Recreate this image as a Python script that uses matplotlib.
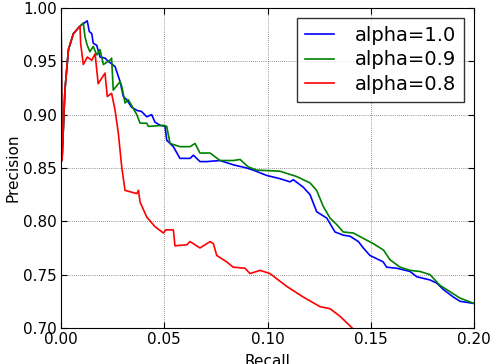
import numpy as np
import matplotlib
matplotlib.use('Agg')
import matplotlib.pyplot as plt

# shared start of all three curves (few top-ranked hits)
start_x = [0.0, 0.0005, 0.0019, 0.0036, 0.0060, 0.0092]
start_y = [1.000, 0.857, 0.923, 0.961, 0.976, 0.983]

# alpha=1.0
recall_a10 = start_x + [0.0127, 0.0137, 0.0149, 0.0156, 0.0173, 0.0189, 0.0213, 0.0229,
                        0.0262, 0.0286, 0.0302, 0.0318, 0.0342, 0.0367, 0.0390, 0.0415,
                        0.0439, 0.0455, 0.0480, 0.0504, 0.0512, 0.0544, 0.0576, 0.0625,
                        0.0641, 0.0673, 0.0706, 0.0770, 0.0834, 0.0899, 0.0931, 0.0996,
                        0.1060, 0.1109, 0.1125, 0.1173, 0.1206, 0.1238, 0.1287, 0.1327,
                        0.1367, 0.1400, 0.1440, 0.1464, 0.1496, 0.1560, 0.1577, 0.1626,
                        0.1690, 0.1723, 0.1787, 0.1820, 0.1852, 0.1900, 0.1932, 0.2000]
prec_a10 = start_y + [0.988, 0.978, 0.976, 0.967, 0.965, 0.954, 0.953, 0.950,
                      0.945, 0.931, 0.917, 0.914, 0.907, 0.904, 0.903, 0.898,
                      0.900, 0.893, 0.890, 0.889, 0.876, 0.870, 0.859, 0.859,
                      0.862, 0.856, 0.856, 0.857, 0.853, 0.850, 0.848, 0.843,
                      0.840, 0.837, 0.839, 0.832, 0.825, 0.809, 0.803, 0.790,
                      0.787, 0.786, 0.781, 0.775, 0.768, 0.762, 0.757, 0.756,
                      0.753, 0.748, 0.745, 0.742, 0.736, 0.729, 0.725, 0.723]

# alpha=0.9
recall_a09 = start_x + [0.0108, 0.0116, 0.0127, 0.0140, 0.0156, 0.0173, 0.0189, 0.0205,
                        0.0237, 0.0245, 0.0253, 0.0286, 0.0295, 0.0310, 0.0326, 0.0367,
                        0.0383, 0.0415, 0.0423, 0.0496, 0.0512, 0.0528, 0.0576, 0.0625,
                        0.0649, 0.0673, 0.0722, 0.0770, 0.0834, 0.0867, 0.0907, 0.0948,
                        0.1060, 0.1141, 0.1206, 0.1238, 0.1270, 0.1303, 0.1335, 0.1367,
                        0.1416, 0.1464, 0.1513, 0.1562, 0.1593, 0.1642, 0.1690, 0.1738,
                        0.1787, 0.1835, 0.1884, 0.1932, 0.2000]
prec_a09 = start_y + [0.986, 0.973, 0.965, 0.959, 0.964, 0.956, 0.961, 0.947,
                      0.951, 0.953, 0.923, 0.931, 0.926, 0.911, 0.914, 0.900,
                      0.892, 0.892, 0.889, 0.890, 0.889, 0.873, 0.870, 0.870,
                      0.873, 0.864, 0.864, 0.857, 0.857, 0.858, 0.851, 0.848,
                      0.847, 0.842, 0.836, 0.829, 0.814, 0.803, 0.797, 0.790,
                      0.789, 0.784, 0.779, 0.773, 0.764, 0.757, 0.754, 0.753,
                      0.750, 0.740, 0.734, 0.728, 0.723]

# alpha=0.8
recall_a08 = start_x + [0.0095, 0.0108, 0.0127, 0.0149, 0.0165, 0.0180, 0.0213, 0.0224,
                        0.0245, 0.0262, 0.0278, 0.0294, 0.0310, 0.0367, 0.0375, 0.0383,
                        0.0415, 0.0455, 0.0496, 0.0507, 0.0544, 0.0552, 0.0609, 0.0625,
                        0.0673, 0.0722, 0.0738, 0.0754, 0.0802, 0.0834, 0.0891, 0.0915,
                        0.0964, 0.1012, 0.1093, 0.1173, 0.1254, 0.1303, 0.1351, 0.1410]
prec_a08 = start_y + [0.967, 0.947, 0.954, 0.951, 0.957, 0.929, 0.939, 0.917,
                      0.920, 0.904, 0.882, 0.851, 0.829, 0.826, 0.829, 0.818,
                      0.804, 0.795, 0.789, 0.792, 0.792, 0.777, 0.778, 0.781,
                      0.775, 0.781, 0.779, 0.768, 0.762, 0.757, 0.756, 0.751,
                      0.754, 0.751, 0.739, 0.729, 0.720, 0.718, 0.711, 0.700]

labels = ['alpha=1.0', 'alpha=0.9', 'alpha=0.8']

fig = plt.figure(figsize=(4.92, 3.64), dpi=100)
ax = fig.add_axes([0.124, 0.099, 0.8394, 0.879])

ax.plot(recall_a10, prec_a10, color='b', lw=1.2, label=labels[0])
ax.plot(recall_a09, prec_a09, color='g', lw=1.2, label=labels[1])
ax.plot(recall_a08, prec_a08, color='r', lw=1.2, label=labels[2])

ax.set_xlim(0, 0.2)
ax.set_ylim(0.70, 1.00)
ax.set_xticks(np.arange(0, 0.201, 0.05))
ax.set_yticks(np.arange(0.70, 1.001, 0.05))
ax.xaxis.set_major_formatter(matplotlib.ticker.FormatStrFormatter('%.2f'))
ax.yaxis.set_major_formatter(matplotlib.ticker.FormatStrFormatter('%.2f'))
ax.tick_params(direction='in', top=True, right=True, labelsize=11, length=4, pad=3)
ax.grid(True, linestyle=(0, (1, 2)), color='0.2', linewidth=0.5)
ax.set_xlabel('Recall', fontsize=11, labelpad=5)
ax.set_ylabel('Precision', fontsize=11, labelpad=2)

leg = ax.legend(loc='upper right', fontsize=14, fancybox=False, handlelength=1.5,
                handletextpad=1.1, labelspacing=0.3, borderaxespad=0.5)
leg.get_frame().set_edgecolor('k')
leg.get_frame().set_linewidth(1.0)

fig.savefig('out.png', dpi=100)
